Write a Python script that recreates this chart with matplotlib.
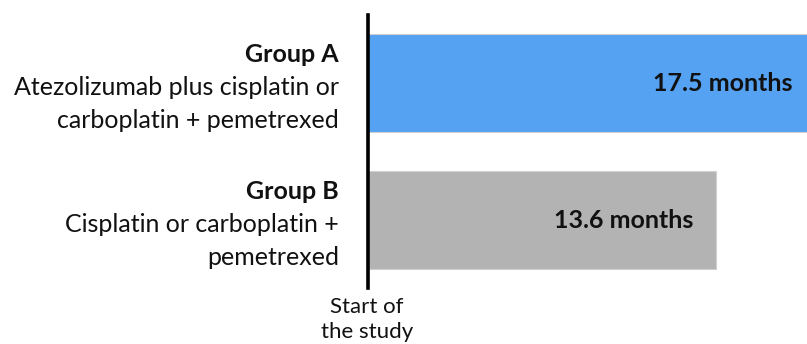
import matplotlib.pyplot as plt
from matplotlib.transforms import blended_transform_factory

plt.rcParams['font.family'] = ['Lato', 'DejaVu Sans']

groups = ['Group A', 'Group B']
descriptions = [['Atezolizumab plus cisplatin or', 'carboplatin + pemetrexed'],
                ['Cisplatin or carboplatin +', 'pemetrexed']]
months = [17.5, 13.6]
value_labels = ['17.5 months', '13.6 months']
bar_colors = ['#55A1F2', '#B3B3B3']
ypos = [1, 0]

W, H = 807, 344
fig = plt.figure(figsize=(W / 100, H / 100), dpi=100)
ax = fig.add_axes([368 / W, (H - 288) / H, 1 - 368 / W, 273 / H])

ax.barh(ypos, months, height=0.715, color=bar_colors, edgecolor='#D0D0D0', linewidth=0.8)
ax.set_xlim(0, 17.16)
ax.set_ylim(-0.496, 1.497)

for s in ['top', 'right', 'bottom']:
    ax.spines[s].set_visible(False)
ax.spines['left'].set_linewidth(2.6)
ax.spines['left'].set_color('black')
ax.set_xticks([])
ax.set_yticks([])

# value labels inside the bars, right aligned near the bar end
for y, v, lab in zip(ypos, months, value_labels):
    ax.annotate(lab, xy=(v, y), xytext=(-16.5, 0), textcoords='offset points',
                ha='right', va='center', fontsize=18, fontweight='bold', color='#111111',
                annotation_clip=False)

# group names and treatment descriptions to the left of the axis
px = 72 / 100
trans = blended_transform_factory(ax.transAxes, ax.transData)
for y, g, desc in zip(ypos, groups, descriptions):
    ax.annotate(g, xy=(0, y), xycoords=trans, xytext=(-29 * px, 21 * px),
                textcoords='offset points', ha='right', va='baseline',
                fontsize=18, fontweight='bold', color='#111111', annotation_clip=False)
    for i, line in enumerate(desc):
        ax.annotate(line, xy=(0, y), xycoords=trans,
                    xytext=(-29 * px, (21 - 33 * (i + 1)) * px),
                    textcoords='offset points', ha='right', va='baseline',
                    fontsize=18, color='#111111', annotation_clip=False)

fig.text(367 / W, 1 - 313 / H, 'Start of', ha='center', va='baseline', fontsize=16, color='#111111')
fig.text(367 / W, 1 - 338 / H, 'the study', ha='center', va='baseline', fontsize=16, color='#111111')

fig.savefig('out.png', dpi=100)
